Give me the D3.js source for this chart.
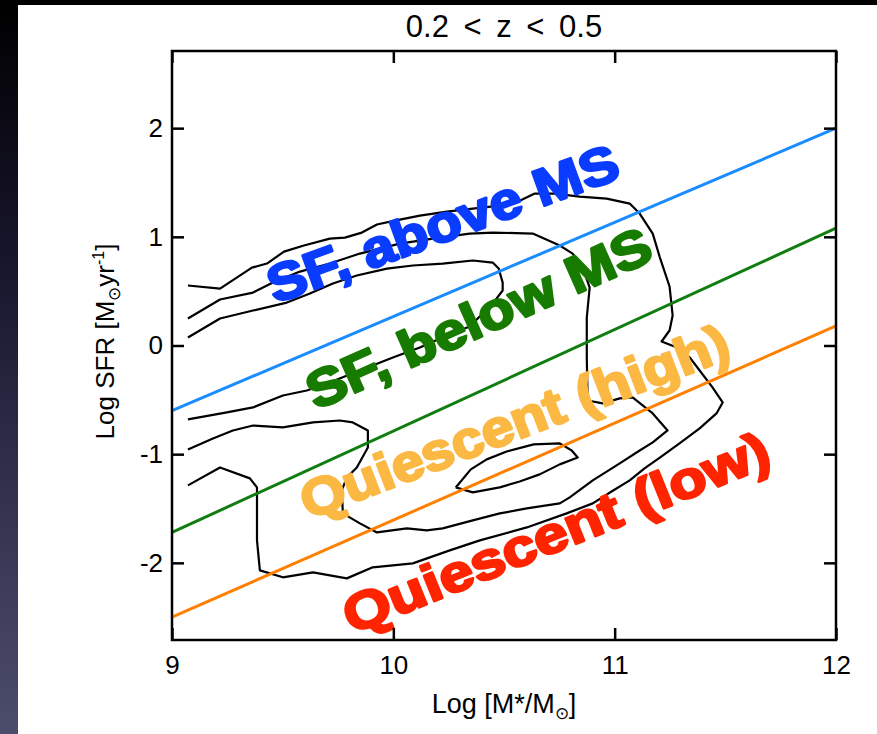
<!DOCTYPE html>
<html>
<head>
<meta charset="utf-8">
<script src="https://cdn.jsdelivr.net/npm/d3@7"></script>
<style>
  html, body { margin: 0; padding: 0; background: #fff; }
  svg { display: block; }
</style>
</head>
<body>
<svg id="chart" width="877" height="734"></svg>
<script>
const xTicks = [9, 10, 11, 12];
const yTicks = [-2, -1, 0, 1, 2];

// density contours as [log M*, log SFR]
const contourOuter = [
  [9.072, 0.552], [9.217, 0.524], [9.361, 0.717], [9.429, 0.754], [9.506, 0.864],
  [9.596, 0.920], [9.713, 0.984], [9.781, 0.993], [9.858, 1.039], [9.926, 1.113],
  [10.007, 1.149], [10.120, 1.195], [10.242, 1.232], [10.359, 1.260], [10.481, 1.287],
  [10.571, 1.333], [10.639, 1.398], [10.729, 1.398], [10.842, 1.370], [10.964, 1.352],
  [11.068, 1.306], [11.113, 1.214], [11.172, 1.030], [11.203, 0.818], [11.248, 0.543],
  [11.262, 0.276], [11.248, 0.138], [11.212, 0.037], [11.293, -0.028], [11.339, -0.110],
  [11.384, -0.230], [11.442, -0.386], [11.488, -0.524], [11.460, -0.625], [11.384, -0.763],
  [11.293, -0.901], [11.212, -1.021], [11.135, -1.131], [11.068, -1.241], [10.986, -1.343],
  [10.901, -1.453], [10.783, -1.545], [10.603, -1.674], [10.391, -1.793], [10.255, -1.885],
  [10.088, -2.005], [9.907, -2.041], [9.790, -2.143], [9.637, -2.087], [9.501, -2.133],
  [9.397, -2.069], [9.384, -1.793], [9.384, -1.306], [9.352, -1.223], [9.217, -1.122],
  [9.072, -1.287]
];
const contourMiddle = [
  [9.072, 0.248], [9.217, 0.423], [9.366, 0.487], [9.456, 0.579], [9.578, 0.680],
  [9.713, 0.754], [9.849, 0.846], [10.029, 0.938], [10.210, 0.993], [10.345, 1.030],
  [10.449, 1.039], [10.630, 1.030], [10.752, 0.920], [10.810, 0.846], [10.856, 0.717],
  [10.887, 0.533], [10.874, 0.257], [10.874, -0.110], [10.878, -0.506], [10.946, -0.533],
  [11.023, -0.487], [11.081, -0.478], [11.172, -0.625], [11.239, -0.782], [11.172, -0.892],
  [11.113, -0.966], [11.023, -1.085], [10.901, -1.241], [10.797, -1.398], [10.752, -1.453],
  [10.603, -1.499], [10.481, -1.545], [10.359, -1.609], [10.223, -1.683], [10.151, -1.701],
  [10.061, -1.683], [9.926, -1.720], [9.849, -1.637], [9.772, -1.545], [9.767, -1.333],
  [9.790, -1.214], [9.835, -1.122], [9.885, -0.938], [9.885, -0.782], [9.817, -0.708],
  [9.758, -0.690], [9.637, -0.708], [9.501, -0.754], [9.366, -0.736], [9.275, -0.782],
  [9.185, -0.855], [9.072, -0.956]
];
const contourInner = [
  [9.072, 0.074], [9.217, 0.248], [9.366, 0.322], [9.519, 0.395], [9.623, 0.478],
  [9.727, 0.570], [9.835, 0.644], [9.971, 0.708], [10.088, 0.736], [10.223, 0.754],
  [10.359, 0.782], [10.449, 0.763], [10.476, 0.708], [10.494, 0.579], [10.494, 0.506],
  [10.449, 0.386], [10.404, 0.294], [10.345, 0.175], [10.242, 0.092], [10.120, -0.018],
  [9.998, -0.110], [9.849, -0.230], [9.700, -0.349], [9.609, -0.414], [9.501, -0.460],
  [9.366, -0.570], [9.248, -0.616], [9.072, -0.680]
];
const contourCore = [
  [10.282, -1.306], [10.350, -1.140], [10.422, -1.048], [10.512, -0.975], [10.634, -0.910],
  [10.752, -0.901], [10.806, -0.966], [10.833, -1.030], [10.752, -1.094], [10.661, -1.186],
  [10.571, -1.251], [10.481, -1.306], [10.359, -1.352], [10.282, -1.306]
];

// dividing lines: log SFR at log M* = 9 and 12
const divideX = [9, 12];
const divideAbove = [-0.6, 2.0];
const divideBelow = [-1.72, 1.08];
const divideQuiescent = [-2.5, 0.18];

const regionNames = ['SF, above MS', 'SF, below MS', 'Quiescent (high)', 'Quiescent (low)'];

const W = 877, H = 734;
const margin = { top: 51, right: 41, bottom: 94, left: 172 };
const width = W - margin.left - margin.right;
const height = H - margin.top - margin.bottom;

const svg = d3.select('#chart');

// slide background: dark top band and left strip
const grad = svg.append('defs').append('linearGradient')
  .attr('id', 'side').attr('x1', 0).attr('y1', 0).attr('x2', 0).attr('y2', 1);
grad.append('stop').attr('offset', 0).attr('stop-color', '#000');
grad.append('stop').attr('offset', 0.35).attr('stop-color', '#17152b');
grad.append('stop').attr('offset', 0.7).attr('stop-color', '#353350');
grad.append('stop').attr('offset', 1).attr('stop-color', '#4c4d6b');

svg.append('rect').attr('width', W).attr('height', H).attr('fill', '#fff');
svg.append('rect').attr('width', 18).attr('height', H).attr('fill', 'url(#side)');
svg.append('rect').attr('width', W).attr('height', 5).attr('fill', '#000');

const x = d3.scaleLinear().domain([9, 12]).range([0, width]);
const y = d3.scaleLinear().domain([-2.71, 2.71]).range([height, 0]);

const g = svg.append('g').attr('transform', `translate(${margin.left},${margin.top})`);

const font = '"Liberation Sans", Arial, Helvetica, sans-serif';

// contours
const line = d3.line().x((d) => x(d[0])).y((d) => y(d[1]));
[contourOuter, contourMiddle, contourInner, contourCore].forEach((c) => {
  g.append('path')
    .attr('d', line(c))
    .attr('fill', 'none')
    .attr('stroke', '#000')
    .attr('stroke-width', 2.2)
    .attr('stroke-linejoin', 'round');
});

// dividing lines
const dividers = [
  { v: divideAbove, color: '#1a8cff' },
  { v: divideBelow, color: '#107d10' },
  { v: divideQuiescent, color: '#ff8000' }
];
dividers.forEach((d) => {
  g.append('line')
    .attr('x1', x(divideX[0])).attr('y1', y(d.v[0]))
    .attr('x2', x(divideX[1])).attr('y2', y(d.v[1]))
    .attr('stroke', d.color)
    .attr('stroke-width', 3);
});

// region labels (placed in data units, rotated on screen)
const labelPlace = [
  { at: [10.251, 0.966], angle: -20, len: 370, color: '#0a3cff' },
  { at: [10.418, 0.101], angle: -24, len: 372, color: '#177b00' },
  { at: [10.576, -0.855], angle: -21, len: 455, color: '#fbb944' },
  { at: [10.765, -1.876], angle: -22, len: 455, color: '#ff2400' }
];
labelPlace.forEach((p, i) => {
  g.append('text')
    .attr('transform', `translate(${x(p.at[0])},${y(p.at[1])}) rotate(${p.angle})`)
    .attr('text-anchor', 'middle')
    .attr('font-family', font)
    .attr('font-weight', 'bold')
    .attr('font-size', 52)
    .attr('fill', p.color)
    .attr('stroke', p.color)
    .attr('stroke-width', 2.6)
    .attr('stroke-linejoin', 'round')
    .attr('textLength', p.len)
    .attr('lengthAdjust', 'spacingAndGlyphs')
    .text(regionNames[i]);
});

// axes, ticks pointing inward on all four sides
const styleAxis = (sel) => {
  sel.select('.domain').remove();
  sel.selectAll('.tick line').attr('stroke', '#000').attr('stroke-width', 2.5);
  sel.selectAll('.tick text').attr('fill', '#000').attr('font-family', font).attr('font-size', 26);
};
const plain = (d) => String(d);

g.append('g')
  .attr('transform', `translate(0,${height})`)
  .call(d3.axisBottom(x).tickValues(xTicks).tickFormat(plain).tickSizeInner(-12).tickSizeOuter(0).tickPadding(16))
  .call(styleAxis);
g.append('g')
  .call(d3.axisTop(x).tickValues(xTicks).tickFormat('').tickSizeInner(-12).tickSizeOuter(0))
  .call(styleAxis);
g.append('g')
  .call(d3.axisLeft(y).tickValues(yTicks).tickFormat(plain).tickSizeInner(-12).tickSizeOuter(0).tickPadding(9))
  .call(styleAxis);
g.append('g')
  .attr('transform', `translate(${width},0)`)
  .call(d3.axisRight(y).tickValues(yTicks).tickFormat('').tickSizeInner(-12).tickSizeOuter(0))
  .call(styleAxis);

g.append('rect')
  .attr('width', width)
  .attr('height', height)
  .attr('fill', 'none')
  .attr('stroke', '#000')
  .attr('stroke-width', 2.5);

// title
svg.append('text')
  .attr('x', margin.left + width / 2)
  .attr('y', 37)
  .attr('text-anchor', 'middle')
  .attr('font-family', font)
  .attr('font-size', 31)
  .attr('word-spacing', 6)
  .attr('fill', '#000')
  .text('0.2 < z < 0.5');

// x label
const xl = svg.append('text')
  .attr('x', margin.left + width / 2)
  .attr('y', 713)
  .attr('text-anchor', 'middle')
  .attr('font-family', font)
  .attr('font-size', 27)
  .attr('fill', '#000');
xl.append('tspan').text('Log [M*/M');
xl.append('tspan').attr('font-size', 17).attr('dy', 6).text('\u2299');
xl.append('tspan').attr('dy', -6).text(']');

// y label
const yl = svg.append('text')
  .attr('transform', `translate(114,${margin.top + height / 2 - 4}) rotate(-90)`)
  .attr('text-anchor', 'middle')
  .attr('font-family', font)
  .attr('font-size', 26)
  .attr('fill', '#000');
yl.append('tspan').text('Log SFR [M');
yl.append('tspan').attr('font-size', 17).attr('dy', 6).text('\u2299');
yl.append('tspan').attr('dy', -6).text('yr');
yl.append('tspan').attr('font-size', 16).attr('dy', -10).text('-1');
yl.append('tspan').attr('dy', 10).text(']');
</script>
</body>
</html>
